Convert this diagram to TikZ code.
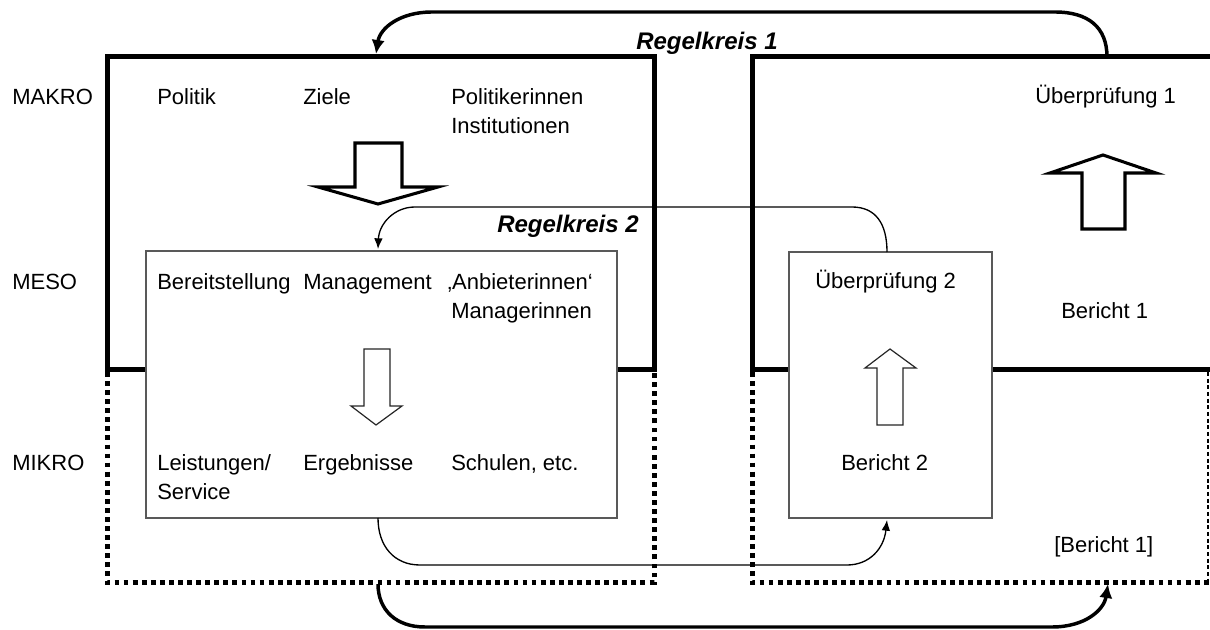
\documentclass[tikz,border=0pt]{standalone}
\usepackage{fontspec}
\setmainfont{Liberation Sans}
\usetikzlibrary{arrows.meta,fit}
\begin{document}
\begin{tikzpicture}[x=0.75pt,y=0.75pt,
  thickline/.style={line width=3.75pt,line cap=rect,line join=miter},
  dotline/.style={line width=3.75pt,dash pattern=on 3.6pt off 3.2pt},
  thindash/.style={line width=0.8pt,dash pattern=on 3pt off 2pt},
  innerbox/.style={draw=black!65,line width=0.9pt,fill=white,inner sep=0pt},
  txt/.style={anchor=base west,inner sep=0pt,font=\fontsize{16.5}{20}\selectfont},
  rk/.style={txt,font=\fontsize{18}{22}\selectfont\bfseries\itshape},
  bigarrow/.style={draw,line width=2.3pt,line join=miter,fill=white},
  smallarrow/.style={draw=black!85,line width=0.9pt,line join=miter,fill=white},
  loopthick/.style={line width=2.6pt,-{Latex[length=10.5pt,width=10pt]}},
  loopthin/.style={line width=1pt,-{Latex[length=8pt,width=6.5pt]}}]
\useasboundingbox[fill=white] (0,0) rectangle (1210,-630);

% big boxes: solid upper parts
\draw[thickline] (107,-370) -- (107,-57) -- (654,-57) -- (654,-370);
\draw[thickline] (107,-370) -- (654,-370);
\draw[thickline] (752,-370) -- (752,-57) -- (1214,-57);
\draw[thickline] (752,-370) -- (1214,-370);
% dotted lower parts
\draw[dotline] (107,-372) -- (107,-582) -- (654,-582) -- (654,-372);
\draw[dotline] (752,-372) -- (752,-582) -- (1214,-582);
\draw[thindash] (1208,-372) -- (1208,-582);

% inner boxes
\node[innerbox,fit={(146,-251) (617,-518)}] (meso) {};
\node[innerbox,fit={(789,-252) (992,-518)}] (ueb2box) {};

% block arrows
\draw[bigarrow] (355,-143) -- (402,-143) -- (402,-187) -- (438,-187) -- (378,-204) -- (318,-187) -- (355,-187) -- cycle;
\draw[bigarrow] (1082,-229) -- (1125,-229) -- (1125,-173) -- (1156,-173) -- (1103,-155) -- (1050,-173) -- (1082,-173) -- cycle;
\draw[smallarrow] (364,-349) -- (390,-349) -- (390,-406) -- (402,-406) -- (376,-425) -- (351,-406) -- (364,-406) -- cycle;
\draw[smallarrow] (877,-425) -- (903,-425) -- (903,-368) -- (916,-368) -- (890,-349) -- (865,-368) -- (877,-368) -- cycle;

% loop end points
\coordinate (r1s) at (1107,-57);
\coordinate (r1e) at (376,-54);
\coordinate (r2s) at (887,-252);
\coordinate (r2e) at (378,-249);
\coordinate (b2s) at (378,-518);
\coordinate (b2e) at (887,-520);
\coordinate (b1s) at (378,-584);
\coordinate (b1e) at (1108,-584);

% Regelkreis 1
\draw[loopthick] (r1s) .. controls (1107,-27) and (1088,-12) .. (1055,-12) -- (432,-12) .. controls (400,-12) and (380,-28) .. (r1e);
% Regelkreis 2
\draw[loopthin] (r2s) .. controls (887,-224) and (876,-207) .. (852,-207) -- (415,-207) .. controls (394,-207) and (379,-224) .. (r2e);
% bottom thin loop
\draw[loopthin] (b2s) .. controls (378,-546) and (394,-565) .. (420,-565) -- (847,-565) .. controls (870,-565) and (884,-548) .. (b2e);
% bottom thick loop
\draw[loopthick] (b1s) .. controls (378,-610) and (396,-627) .. (425,-627) -- (1052,-627) .. controls (1085,-627) and (1104,-610) .. (b1e);

% labels
\node[rk] (rk1) at (636,-50) {Regelkreis 1};
\node[rk] (rk2) at (497,-233) {Regelkreis 2};

\node[txt] (makro) at (12,-105) {MAKRO};
\node[txt] (meso-l) at (12,-290) {MESO};
\node[txt] (mikro) at (12,-471) {MIKRO};

\node[txt] (politik) at (157,-105) {Politik};
\node[txt] (ziele) at (303,-105) {Ziele};
\node[txt] (polit) at (451,-105) {Politikerinnen};
\node[txt] (inst) at (451,-134) {Institutionen};

\node[txt] (bereit) at (157,-290) {Bereitstellung};
\node[txt] (manag) at (303,-290) {Management};
\node[txt] (anbiet) at (447,-290) {‚Anbieterinnen‘};
\node[txt] (managr) at (451,-319) {Managerinnen};

\node[txt] (leist) at (157,-471) {Leistungen/};
\node[txt] (serv) at (157,-500) {Service};
\node[txt] (ergeb) at (303,-471) {Ergebnisse};
\node[txt] (schul) at (451,-471) {Schulen, etc.};

\node[txt] (ueb1) at (1035,-104) {Überprüfung 1};
\node[txt] (ber1) at (1061,-319) {Bericht 1};
\node[txt] (ueb2) at (815,-289) {Überprüfung 2};
\node[txt] (ber2) at (841,-471) {Bericht 2};
\node[txt] (ber1b) at (1054,-552) {[Bericht 1]};
\end{tikzpicture}
\end{document}
